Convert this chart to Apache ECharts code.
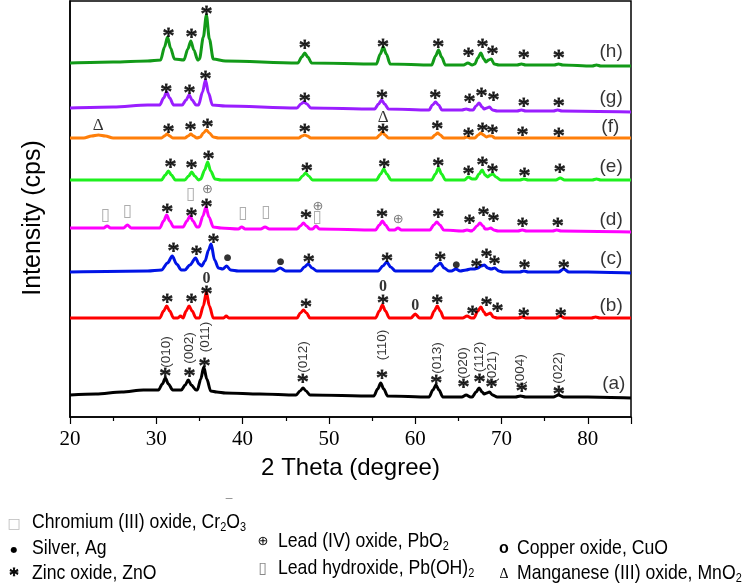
<!DOCTYPE html>
<html><head><meta charset="utf-8">
<script src="https://cdn.jsdelivr.net/npm/echarts@6/dist/echarts.min.js"></script>
<style>html,body{margin:0;padding:0;background:#fff}#c{width:754px;height:588px}</style>
</head><body><div id="c"></div>
<script>
// ---------- data (2θ in degree, intensity in arbitrary stacked units) ----------
const curveA = [[20,22],[23,23],[26,25],[28.5,27],[30.25,27],[30.7,33],[31.05,39],[31.4,33],[31.9,27],[32.9,27],[33.35,32],[33.7,37],[34.05,32],[34.6,27],[34.75,27],[35.15,38],[35.5,50],[35.85,38],[36.3,26],[37,25],[38,24],[42,23],[46.2,22],[46.65,26],[47.0,29],[47.35,26],[47.8,22],[55.2,21],[55.65,28],[56.0,34],[56.35,28],[56.8,21],[61.6,20],[62.05,27],[62.4,32],[62.75,27],[63.2,20],[65.4,20],[65.9,22],[66.4,20],[66.6,20],[67.05,25],[67.4,29],[67.75,25],[68.0,23],[68.3,24],[68.6,25],[68.95,22],[69.5,20],[71.6,20],[72.2,21],[72.8,20],[76.0,20],[76.6,22],[77.2,20],[80,20],[85,19]];
const curveB = [[20,99],[28,99],[30.4,99],[30.85,106],[31.2,111],[31.55,106],[32.0,99],[32.5,99],[32.8,101],[33.1,99],[33.45,106],[33.8,111],[34.15,106],[34.6,99],[35.0,99],[35.45,111],[35.8,125],[36.15,111],[36.6,99],[37.8,99],[38.1,101],[38.4,99],[46.3,99],[46.7,104],[47.05,107],[47.4,104],[47.8,99],[55.4,99],[55.85,106],[56.2,112],[56.55,106],[57.0,99],[59.5,99],[60.0,103],[60.5,99],[61.8,99],[62.2,106],[62.55,111],[62.9,106],[63.3,99],[65.5,99],[66.0,101],[66.5,99],[66.8,99],[67.25,106],[67.6,110],[67.95,105],[68.2,102],[68.45,103],[68.7,104],[69.05,100],[69.5,99],[71.9,99],[72.4,100],[72.9,99],[76.3,99],[76.8,101],[77.3,99],[80.4,99],[80.9,100],[81.4,99],[85,99]];
const curveC = [[20,145],[29,146],[30.6,147],[31.3,154],[31.85,161],[32.35,153],[32.9,147],[33.3,147],[33.9,152],[34.55,159],[34.95,153],[35.25,151],[35.65,156],[36.05,167],[36.35,173],[36.75,157],[37.2,149],[37.7,148],[38.15,151],[38.6,147],[39.5,146],[43.7,146],[44.35,149],[45.0,146],[46.7,146],[47.15,150],[47.6,153],[48.05,149],[48.6,146],[55.7,146],[56.25,151],[56.7,155],[57.15,150],[57.7,146],[61.9,146],[62.45,151],[62.9,154],[63.35,149],[63.9,146],[64.2,146],[64.7,148],[65.2,146],[65.9,147],[66.4,148],[66.8,148],[67.3,149],[67.6,151],[68.0,152],[68.4,149],[68.8,148],[69.2,149],[69.7,146],[70.2,145],[72.1,145],[72.6,146],[73.1,145],[76.6,145],[77.2,148],[77.8,145],[80,145],[85,144]];
const curveD = [[20,189],[23.9,189],[24.3,191],[24.7,189],[26.2,189],[26.65,192],[27.1,189],[30.4,189],[30.85,196],[31.2,202],[31.55,196],[32.0,190],[33.1,190],[33.55,196],[33.9,201],[34.25,196],[34.7,190],[34.95,190],[35.4,201],[35.75,210],[36.1,200],[36.6,190],[37.5,189],[39.5,188],[39.9,190],[40.3,188],[42.1,188],[42.6,190],[43.1,188],[46.3,188],[46.7,191],[47.05,194],[47.4,191],[47.8,188],[48.1,188],[48.5,191],[48.9,188],[55.4,187],[55.85,192],[56.2,196],[56.55,192],[57.0,187],[57.6,187],[58.0,189],[58.4,187],[61.7,187],[62.15,192],[62.5,195],[62.85,192],[63.3,187],[65.5,186],[66.0,187],[66.5,186],[66.7,187],[67.15,191],[67.5,194],[67.85,191],[68.1,188],[68.4,188],[68.75,189],[69.1,187],[69.6,186],[71.9,186],[72.4,187],[72.9,186],[75.9,186],[76.4,187],[76.9,186],[85,185]];
const curveE = [[20,237],[30.6,237],[31.05,242],[31.4,246],[31.75,242],[32.2,237],[33.3,237],[33.75,241],[34.1,245],[34.45,241],[34.9,237],[35.15,238],[35.6,247],[35.95,255],[36.3,246],[36.8,238],[37.5,237],[46.5,237],[46.95,241],[47.3,244],[47.65,241],[48.1,237],[55.5,237],[56.0,243],[56.35,248],[56.7,243],[57.2,237],[61.9,237],[62.35,243],[62.7,249],[63.05,243],[63.5,237],[65.7,237],[66.15,240],[66.6,238],[67.0,238],[67.4,243],[67.75,247],[68.1,242],[68.4,240],[68.7,242],[69.0,243],[69.35,240],[69.9,237],[72.1,237],[72.6,238],[73.1,237],[76.3,237],[76.8,239],[77.3,237],[80.5,237],[81.0,238],[81.5,237],[85,237]];
const curveF = [[20,279],[21.6,279],[22.5,281],[23.3,282],[24.1,281],[25.0,279],[30.6,279],[30.95,281],[31.25,283],[31.55,281],[31.9,279],[33.3,279],[33.7,281],[34.0,283],[34.3,281],[34.7,279],[35.1,280],[35.45,284],[35.8,287],[36.15,284],[36.6,280],[37.2,279],[46.5,279],[46.9,281],[47.2,282],[47.5,281],[47.9,279],[55.5,279],[55.9,282],[56.2,285],[56.5,282],[56.9,279],[61.9,279],[62.3,282],[62.6,284],[62.9,282],[63.3,279],[65.6,279],[66.0,280],[66.4,279],[66.9,279],[67.3,282],[67.6,284],[67.9,282],[68.25,280],[68.55,281],[68.85,281],[69.25,279],[85,279]];
const curveG = [[20,309],[25,310],[29,312],[30.4,312],[30.85,319],[31.2,325],[31.55,319],[32.0,312],[33.0,312],[33.45,317],[33.8,322],[34.15,317],[34.6,312],[34.9,312],[35.35,325],[35.7,337],[36.05,324],[36.5,312],[38,311],[46.3,309],[46.75,313],[47.1,315],[47.45,313],[47.9,309],[55.3,308],[55.75,313],[56.1,317],[56.45,313],[56.9,308],[61.6,307],[62.0,312],[62.35,315],[62.7,312],[63.1,307],[65.4,307],[65.9,308],[66.4,307],[66.7,307],[67.05,311],[67.4,314],[67.75,310],[68.0,308],[68.3,309],[68.6,310],[68.95,307],[69.5,306],[71.8,306],[72.3,307],[72.8,306],[76.0,306],[76.5,307],[77.0,306],[85,305]];
const curveH = [[20,354],[25,355],[29,356],[30.5,357],[30.95,370],[31.3,380],[31.65,369],[32.1,358],[33.2,357],[33.65,368],[34.0,376],[34.35,367],[34.8,357],[35.0,358],[35.45,380],[35.8,402],[36.15,378],[36.6,358],[38,356],[46.4,354],[46.85,360],[47.2,364],[47.55,360],[48.0,354],[55.5,353],[55.95,363],[56.3,370],[56.65,363],[57.1,353],[61.9,352],[62.35,361],[62.7,367],[63.05,360],[63.5,352],[65.6,352],[66.1,354],[66.6,352],[66.9,353],[67.25,359],[67.6,364],[67.95,358],[68.2,355],[68.5,357],[68.8,358],[69.15,353],[69.7,352],[71.8,352],[72.3,353],[72.8,352],[76.1,352],[76.6,353],[77.1,352],[80.5,351],[81.0,352],[81.5,351],[85,351]];

const sampleLabels = ['(a)','(b)','(c)','(d)','(e)','(f)','(g)','(h)'];
const sampleLabelPos = [[83.0,33],[82.7,111],[82.7,158],[82.7,197],[82.7,250],[82.6,290],[82.7,319],[82.7,365]];
const sampleColors = ['#000000','#ff0000','#0014e6','#ff00ff','#1ef01e','#ff7f0a','#9a1eff','#129a18'];

// ZnO (*) marks
const starPts = [
  [31.05,45],[33.84,45],[35.58,55],[46.98,39],[56.16,43],[62.44,38],[65.58,34],[67.44,39],[68.84,34],[72.33,30],[76.63,27],
  [31.28,119],[34.07,119],[35.81,127],[47.33,114],[56.28,118],[62.56,118],[66.63,107],[68.26,116],[69.53,110],[72.56,105],[76.86,105],
  [31.98,170],[34.65,167],[36.63,179],[47.67,159],[56.74,160],[62.91,161],[67.09,154],[68.26,164],[69.19,157],[72.67,153],[77.21,153],
  [31.28,209],[34.07,205],[35.81,214],[47.33,203],[56.16,204],[62.67,204],[66.28,198],[67.91,206],[69.07,200],[72.44,195],[76.51,195],
  [31.63,254],[34.07,253],[36.05,262],[47.44,250],[56.40,254],[62.67,255],[66.16,247],[67.79,256],[68.95,249],[72.67,245],[76.74,249],
  [31.40,289],[33.95,291],[35.93,294],[47.21,289],[56.28,289],[62.56,292],[66.16,285],[67.79,290],[68.95,288],[72.44,286],[76.63,285],
  [31.16,329],[33.84,328],[35.70,342],[47.21,320],[56.16,323],[62.33,323],[66.28,319],[67.67,325],[69.07,321],[72.56,315],[76.63,315],
  [31.40,385],[34.07,384],[35.81,407],[47.21,373],[56.28,374],[62.67,374],[66.16,365],[67.79,374],[68.95,367],[72.56,363],[76.63,363]
];
const silverPts = [[38.26,159],[44.42,155],[64.77,152]];
const pbo2Pts = [[35.93,227],[48.72,210],[58.02,197]];
const boxPts = [[24.07,201],[26.63,205],[33.95,222],[40.0,203],[42.67,204],[48.6,199]];
const cuoPts = [[35.81,138],[56.28,130],[60.0,111]];
const mno2Pts = [[23.26,291],[56.28,299]];
const hklLabels = ['(010)','(002)','(011)','(012)','(110)','(013)','(020)','(112)','(021)','(004)','(022)'];
const hklPos = [[31.16,65],[33.84,69],[35.7,80],[46.98,60],[56.16,72],[62.56,59],[65.58,54],[67.44,60],[68.95,50],[72.21,47],[76.63,49]];

const xMin = 20, xMax = 85, xStep = 10;

// ---------- chart ----------
const chart = echarts.init(document.getElementById('c'), null, {renderer:'canvas'});
const curves = [curveA,curveB,curveC,curveD,curveE,curveF,curveG,curveH];

function textSeries(name, pts, text, lab) {
  return {
    name, type:'scatter', symbolSize:0, silent:true, z:5,
    data: pts.map(p => ({value:p})),
    label: Object.assign({show:true, position:'inside', formatter:text, color:'#000'}, lab)
  };
}

const series = curves.map((c,i) => ({
  name: sampleLabels[i], type:'line', data:c, showSymbol:false, smooth:0.3, smoothMonotone:'x',
  lineStyle:{color:sampleColors[i], width:3}, z:2, silent:true
}));
series.push(textSeries('zno', starPts, '*', {fontFamily:'Liberation Serif', fontSize:24, offset:[0,5], textBorderColor:'#000', textBorderWidth:0.9}));
series.push(textSeries('ag', silverPts, '●', {fontFamily:'DejaVu Sans', fontSize:9}));
series.push(textSeries('pbo2', pbo2Pts, '⊕', {fontFamily:'DejaVu Sans', fontSize:13, color:'#555'}));
series.push(textSeries('box', boxPts, '▯', {fontFamily:'DejaVu Sans', fontSize:17, color:'#999'}));
series.push(textSeries('cuo', cuoPts, '0', {fontFamily:'Liberation Serif', fontWeight:'bold', fontSize:16}));
series.push(textSeries('mno2', mno2Pts, 'Δ', {fontFamily:'Liberation Serif', fontSize:17}));
series.push({
  name:'hkl', type:'scatter', symbolSize:0, silent:true, z:5,
  data: hklPos.map((p,i)=>({value:p, label:{formatter:hklLabels[i]}})),
  label:{show:true, position:'inside', rotate:90, fontFamily:'Liberation Sans', fontSize:13.5, color:'#000'}
});
series.push({
  name:'samples', type:'scatter', symbolSize:0, silent:true, z:5,
  data: sampleLabelPos.map((p,i)=>({value:p, label:{formatter:sampleLabels[i]}})),
  label:{show:true, position:'inside', fontFamily:'Liberation Sans', fontSize:19, color:'#000'}
});

const legendRich = {
  t:{fontFamily:'Liberation Sans', fontSize:21, fill:'#000', lineHeight:24},
  s:{fontFamily:'Liberation Sans', fontSize:13, fill:'#000', verticalAlign:'bottom', lineHeight:4}
};
function legText(x, y, text) {
  return {type:'text', x, y, scaleX:0.84, silent:true, style:{text, rich:legendRich, verticalAlign:'middle', align:'left'}};
}
function legSym(x, y, text, font, color) {
  return {type:'text', x, y, silent:true, style:{text, font, fill:color||'#000', verticalAlign:'middle', align:'center'}};
}

chart.setOption({
  animation:false,
  backgroundColor:'#fff',
  grid:{left:70, right:123, top:1, bottom:171, show:true, borderColor:'#000', borderWidth:1.5, backgroundColor:'transparent'},
  xAxis:{
    type:'value', min:xMin, max:xMax, interval:xStep,
    axisLine:{show:true, lineStyle:{color:'#000', width:1.5}},
    axisTick:{show:true, length:7, lineStyle:{color:'#000', width:1.2}},
    minorTick:{show:true, splitNumber:2, length:4, lineStyle:{color:'#000', width:1.2}},
    splitLine:{show:false},
    axisLabel:{color:'#000', fontFamily:'Liberation Serif', fontSize:21, margin:12, showMaxLabel:false},
    name:'2 Theta (degree)', nameLocation:'middle', nameGap:39,
    nameTextStyle:{color:'#000', fontFamily:'Liberation Sans', fontSize:24}
  },
  yAxis:{
    type:'value', min:0, max:416, show:true,
    axisLine:{show:true, lineStyle:{color:'#000', width:1.5}},
    axisTick:{show:false}, axisLabel:{show:false}, splitLine:{show:false}
  },
  series,
  graphic:[
    {type:'text', x:33, y:218, rotation:Math.PI/2, silent:true,
     style:{text:'Intensity (cps)', font:'25px "Liberation Sans"', fill:'#000', align:'center', verticalAlign:'middle'}},
    legSym(14, 524, '□', '14px "DejaVu Sans"', '#bbb'),
    legText(32, 522, '{t|Chromium (III) oxide, Cr}{s|2}{t|O}{s|3}'),
    {type:'text', x:229, y:505, silent:true, style:{text:'¯', font:'12px "Liberation Sans"', fill:'#555', align:'center', verticalAlign:'middle'}},
    legSym(14, 550, '●', '8px "DejaVu Sans"'),
    legText(32, 548, '{t|Silver, Ag}'),
    {type:'text', x:14, y:577, silent:true, style:{text:'*', font:'20px "Liberation Serif"', fill:'#000', stroke:'#000', lineWidth:0.8, align:'center', verticalAlign:'middle'}},
    legText(32, 573, '{t|Zinc oxide, ZnO}'),
    legSym(263, 542, '⊕', '13px "DejaVu Sans"'),
    legText(278, 541, '{t|Lead (IV) oxide, PbO}{s|2}'),
    legSym(263, 569, '▯', '16px "DejaVu Sans"', '#888'),
    legText(278, 568, '{t|Lead hydroxide, Pb(OH)}{s|2}'),
    legSym(504, 549, 'o', 'bold 16px "Liberation Sans"'),
    legText(517, 548, '{t|Copper oxide, CuO}'),
    legSym(504, 574, 'Δ', '14px "Liberation Serif"'),
    legText(517, 573, '{t|Manganese (III) oxide, MnO}{s|2}')
  ]
});
</script></body></html>
